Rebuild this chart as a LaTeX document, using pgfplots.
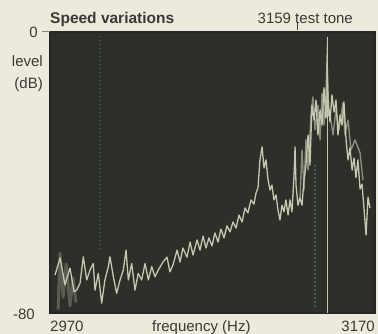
\documentclass[border=0pt]{standalone}
\usepackage{fontspec}
\setmainfont{Liberation Sans}
\usepackage{pgfplots}
\usepackage{pgfplotstable}
\pgfplotsset{compat=1.18}
\definecolor{pagebg}{HTML}{EDE9DD}
\definecolor{plotbg}{HTML}{2C3028}
\definecolor{trace}{HTML}{C4C8B0}
\definecolor{txt}{HTML}{3A3A34}
\definecolor{dotcol}{HTML}{4C5560}

\pgfplotstableread{
f d
2973.1 -69.2
2976.2 -64.3
2979.2 -72.0
2982.3 -67.2
2984.8 -74.0
2986.4 -73.5
2988.5 -71.5
2990.5 -64.0
2992.6 -70.6
2994.6 -67.8
2996.6 -65.9
2997.7 -73.5
2999.7 -68.7
3001.8 -77.2
3003.8 -70.6
3005.9 -66.8
3006.9 -64.0
3009.0 -69.7
3011.0 -74.4
3013.1 -70.6
3015.1 -67.8
3016.8 -62.1
3018.2 -70.6
3020.3 -65.9
3022.3 -73.5
3024.3 -68.7
3026.4 -70.6
3028.5 -65.9
3030.5 -70.6
3032.6 -66.8
3034.6 -69.7
3036.6 -67.8
3039.5 -65.5
3042.0 -64.1
3043.8 -68.3
3045.7 -66.3
3048.2 -62.1
3050.0 -65.5
3051.8 -61.5
3054.3 -64.1
3056.2 -59.8
3058.0 -63.5
3060.5 -59.2
3062.3 -62.1
3064.2 -58.1
3066.0 -61.5
3067.8 -58.6
3069.7 -60.9
3071.5 -57.2
3073.4 -59.8
3075.2 -56.1
3077.1 -58.6
3078.9 -55.2
3080.8 -56.9
3082.6 -54.1
3084.5 -55.8
3086.3 -52.1
3088.2 -54.1
3090.0 -50.1
3091.8 -51.5
3093.7 -47.8
3095.5 -49.0
3096.8 -45.8
3098.0 -44.4
3099.2 -36.4
3100.5 -32.7
3101.7 -38.7
3102.9 -36.4
3104.2 -42.1
3105.4 -45.0
3106.6 -43.6
3107.8 -47.8
3109.1 -46.4
3110.3 -50.7
3111.5 -53.5
3112.8 -49.3
3114.0 -51.2
3115.2 -47.8
3116.5 -52.1
3117.7 -47.8
3118.9 -51.2
3120.2 -40.7
3120.8 -32.7
3121.4 -43.6
3122.6 -49.3
3123.8 -47.2
3125.1 -49.3
3126.3 -42.1
3127.5 -37.9
3128.8 -29.3
3130.0 -37.9
3131.2 -20.8
3132.5 -25.1
3133.7 -19.4
3134.9 -29.3
3136.2 -22.2
3137.4 -26.5
3138.6 -15.9
3139.8 -24.5
3141.1 -19.4
3142.3 -25.6
3143.5 -17.9
3144.8 -22.8
3146.0 -19.4
3147.2 -29.3
3148.5 -23.6
3149.7 -26.5
3150.9 -19.9
3152.2 -30.7
3153.4 -36.4
3154.6 -33.0
3155.9 -39.3
3157.1 -35.9
3158.3 -41.5
3159.5 -36.4
3160.8 -44.7
3162.0 -43.3
3163.2 -50.1
3164.5 -57.8
3165.7 -47.0
3166.9 -50.1
}\spec

\pgfplotstableread{
f d
3123.8 -47.8
3125.1 -33.6
3126.3 -45.0
3127.5 -30.7
3128.8 -39.3
3130.6 -23.6
3131.8 -18.5
3133.1 -27.9
3134.9 -20.8
3136.2 -30.7
3137.4 -17.4
3138.6 -26.5
3139.8 -19.4
3142.3 -23.6
3144.2 -29.3
3146.0 -22.2
3147.8 -27.9
3150.3 -20.2
3151.5 -29.3
3153.4 -25.1
3155.2 -33.6
3157.7 -30.7
3160.8 -34.4
3162.6 -42.1
}\ghostpeak

\pgfplotstableread{
f d
2975.0 -79.0
2976.2 -63.0
2978.1 -75.5
2980.0 -66.0
2982.3 -78.0
2984.2 -70.0
2986.0 -77.0
}\ghostleft

\begin{document}
\begin{tikzpicture}
\fill[pagebg] (-50pt,-21pt) rectangle (328pt,313pt);
\useasboundingbox (-50pt,-21pt) rectangle (328pt,313pt);
\begin{axis}[
  at={(0pt,0pt)}, anchor=south west,
  scale only axis, width=325pt, height=281pt,
  xmin=2970, xmax=3170, ymin=-80, ymax=0,
  axis background/.style={fill=plotbg},
  axis line style={draw=black!85, line width=1.2pt},
  ticks=none, clip=true]
\addplot[dotcol, line width=1.5pt, dash pattern=on 1.5pt off 2.5pt, opacity=0.7] coordinates {(3000.8,-1) (3000.8,-62)};
\addplot[dotcol, line width=2pt, dash pattern=on 1.5pt off 2.5pt] coordinates {(3133.0,-38) (3133.0,-79)};
\addplot[trace, line width=3pt, opacity=0.3, line join=round] table[x=f,y=d]{\ghostleft};
\addplot[trace, line width=1.4pt, opacity=0.6, line join=round] table[x=f,y=d]{\ghostpeak};
\addplot[trace, line width=0.9pt] coordinates {(3140.5,-80) (3140.5,-1.5)};
\addplot[fill=trace, draw=none, opacity=0.85] coordinates {(3139.0,-24) (3140.5,-1.2) (3142.0,-24)} -- cycle;
\addplot[trace, line width=1.3pt, line join=round] table[x=f,y=d]{\spec};
\end{axis}
\begin{scope}[every node/.style={inner sep=0pt, text=txt, font=\fontsize{15}{17}\selectfont}]
\node[anchor=base west, font=\fontsize{15.5}{17}\selectfont\bfseries] at (0pt,289pt) {Speed variations};
\node[anchor=base east] at (303pt,289pt) {3159 test tone};
\draw[txt, line width=0.6pt] (247pt,283pt) -- (247pt,291pt);
\node[anchor=base east] at (-12pt,275pt) {0};
\draw[gray, line width=1pt] (-8pt,281pt) -- (0pt,281pt);
\node[anchor=base east] at (-7pt,246pt) {level};
\node[anchor=base east] at (-7pt,224pt) {(dB)};
\node[anchor=base east] at (-15pt,-7pt) {-80};
\node[anchor=base west] at (0pt,-19pt) {2970};
\node[anchor=base west] at (102pt,-19pt) {frequency (Hz)};
\node[anchor=base east] at (325pt,-19pt) {3170};
\end{scope}
\end{tikzpicture}
\end{document}
